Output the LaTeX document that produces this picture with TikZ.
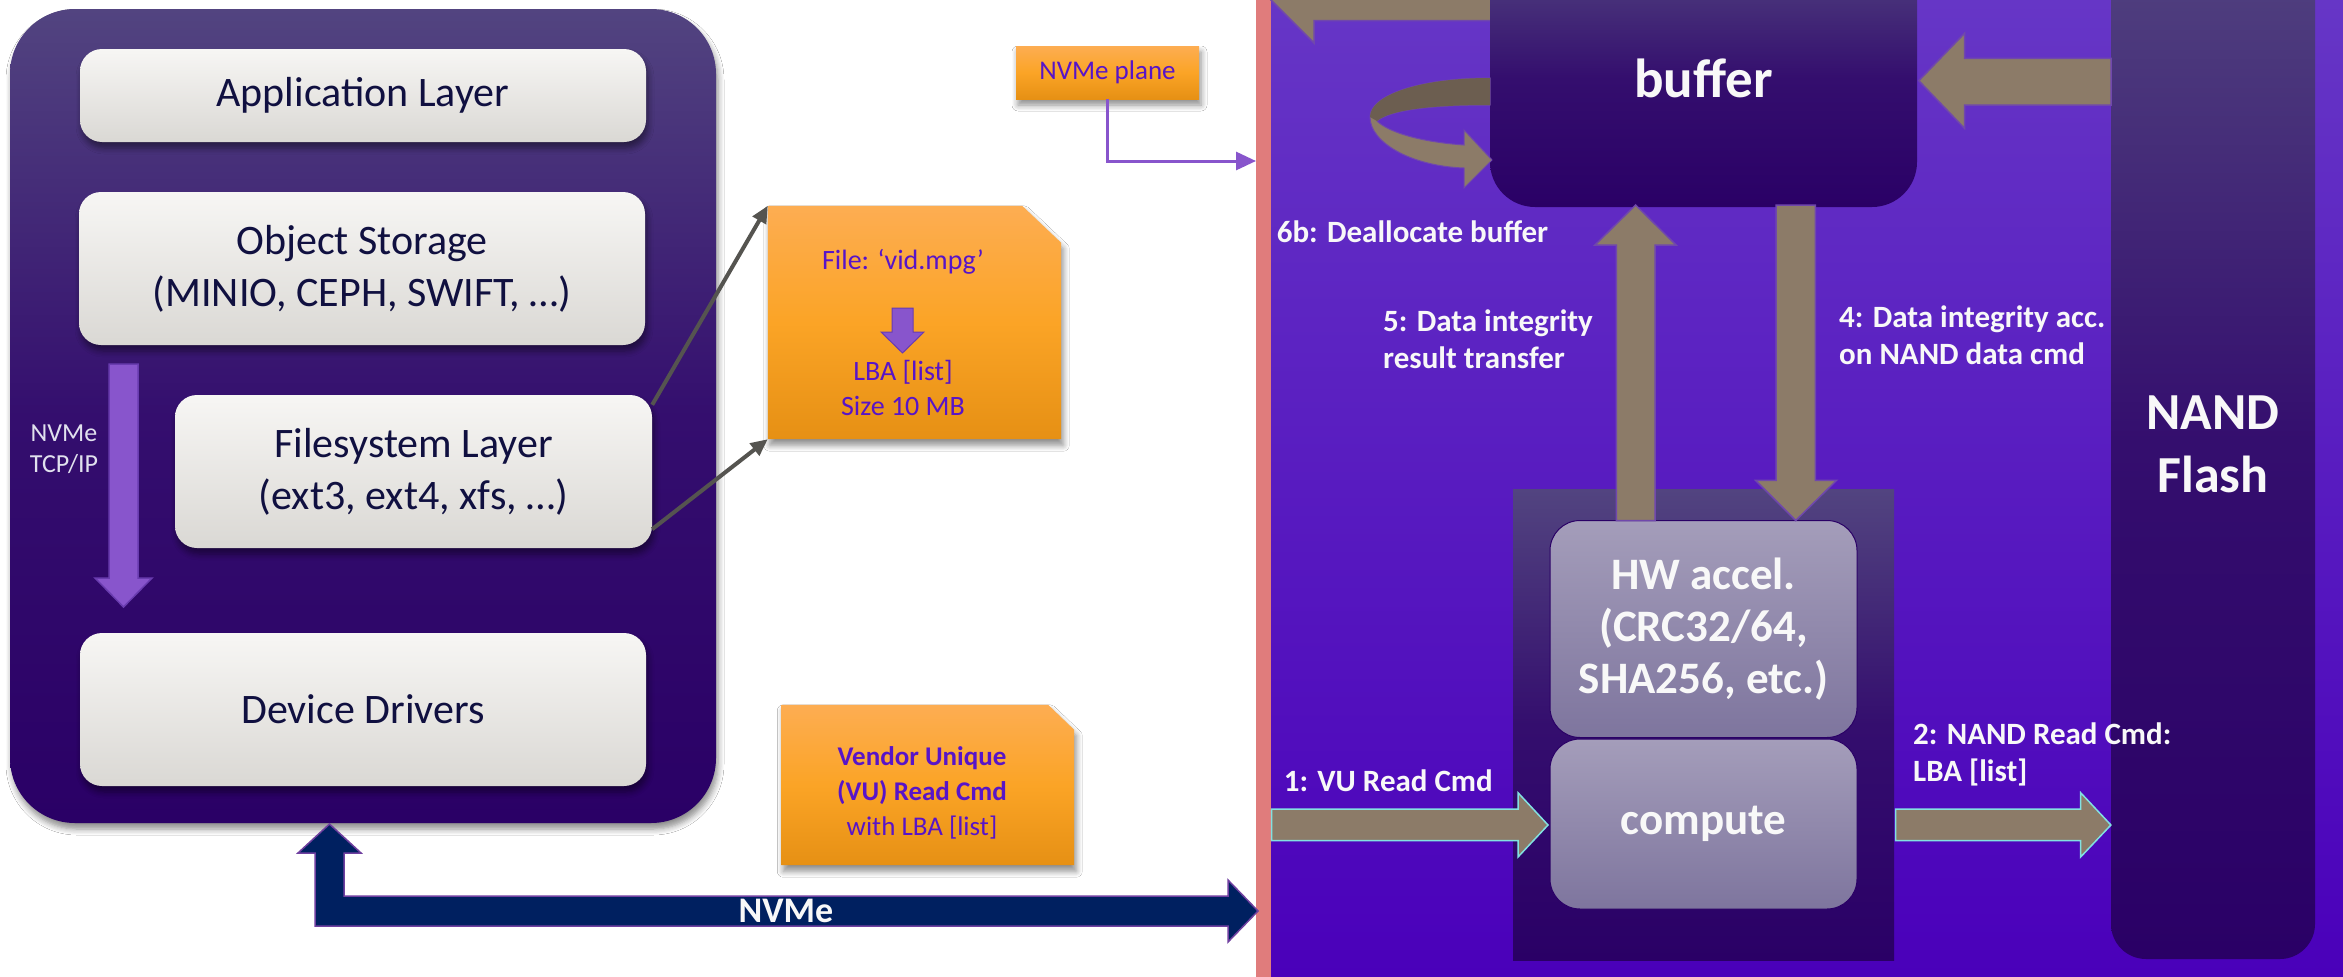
\documentclass[tikz,border=0pt]{standalone}
\usepackage{fontspec}
\setmainfont{Carlito}
\usetikzlibrary{arrows.meta,shadows.blur,calc}

\definecolor{panelTop}{RGB}{82,68,128}
\definecolor{panelMid}{RGB}{52,14,110}
\definecolor{panelBot}{RGB}{42,0,102}
\definecolor{layerTop}{RGB}{247,246,244}
\definecolor{layerBot}{RGB}{218,216,212}
\definecolor{layerText}{RGB}{16,16,64}
\definecolor{hostLabel}{RGB}{225,225,238}
\definecolor{lilac}{RGB}{136,85,204}
\definecolor{lilacEdge}{RGB}{105,60,175}
\definecolor{noteTop}{RGB}{253,173,82}
\definecolor{noteMid}{RGB}{251,164,38}
\definecolor{noteBot}{RGB}{230,144,20}
\definecolor{noteText}{RGB}{88,20,200}
\definecolor{navy}{RGB}{0,32,96}
\definecolor{navyEdge}{RGB}{112,64,160}
\definecolor{pinkStrip}{RGB}{224,124,124}
\definecolor{devTop}{RGB}{102,54,198}
\definecolor{devBot}{RGB}{74,0,186}
\definecolor{taupe}{RGB}{140,123,104}
\definecolor{taupeDark}{RGB}{108,94,80}
\definecolor{taupeEdge}{RGB}{112,72,172}
\definecolor{cyanEdge}{RGB}{130,225,225}
\definecolor{accTop}{RGB}{164,157,186}
\definecolor{accBot}{RGB}{126,117,158}
\definecolor{wire}{RGB}{85,84,80}
\definecolor{labelWhite}{RGB}{248,248,248}

\begin{document}
\begin{tikzpicture}[x=1pt,y=-1pt,
  softshadow/.style={blur shadow={shadow xshift=2pt, shadow yshift=-6pt,
      shadow opacity=45, shadow blur radius=6pt, shadow blur steps=6}},
  hostpanel/.style={rounded corners=65pt, top color=panelTop, bottom color=panelBot,
      middle color=panelMid, inner sep=0pt, softshadow},
  layer/.style={rounded corners=22pt, top color=layerTop, bottom color=layerBot,
      text=layerText, font=\fontsize{42}{52}\selectfont, align=center,
      inner sep=0pt, softshadow},
  noteframe/.style={rectangle, inner sep=0pt},
  notefill/.style={top color=noteTop, bottom color=noteBot, middle color=noteMid,
      softshadow},
  noterect/.style={rectangle, top color=noteTop, bottom color=noteBot,
      middle color=noteMid, inner sep=0pt, softshadow},
  notetext/.style={text=noteText, font=\fontsize{28}{35}\selectfont,
      align=center, inner sep=0pt},
  lilacarrow/.style={fill=lilac, draw=lilacEdge, line width=1.5pt},
  wireline/.style={draw=wire, line width=4pt,
      -{Triangle[length=17pt,width=15pt]}},
  planewire/.style={draw=lilac, line width=3pt,
      -{Triangle[length=20pt,width=18pt]}},
  darkbox/.style={top color=panelTop, bottom color=panelBot,
      middle color=panelMid, inner sep=0pt, text=labelWhite},
  accbox/.style={rounded corners=30pt, top color=accTop, bottom color=accBot,
      draw=panelBot, line width=1pt, text=labelWhite,
      font=\bfseries\fontsize{45}{52}\selectfont, align=center, inner sep=0pt},
  taupearrow/.style={fill=taupe, draw=taupeEdge, line width=1.5pt},
  cmdarrow/.style={fill=taupe, draw=cyanEdge, line width=1.5pt},
  steplabel/.style={text=labelWhite, font=\bfseries\fontsize{31}{37}\selectfont,
      align=left, anchor=west, inner sep=0pt}
]
\useasboundingbox (0,0) rectangle (2343,977);
\clip (0,0) rectangle (2343,977);
\fill[white] (0,0) rectangle (2343,977);

% ---------------- device side background ----------------
\fill[top color=devTop, bottom color=devBot] (1271,0) rectangle (2343,977);
\fill[pinkStrip] (1256,0) rectangle (1271,977);

% ---------------- host software stack ----------------
\node[hostpanel, minimum width=706pt, minimum height=814pt] (host) at (363,416) {};
\node[layer, minimum width=566pt, minimum height=93pt] (app) at (363,95.5) {Application Layer};
\node[layer, minimum width=566pt, minimum height=153pt] (obj) at (362,268.5)
  {Object Storage\\(MINIO, CEPH, SWIFT, …)};
\node[layer, minimum width=477pt, minimum height=153pt] (fs) at (413.5,471.5)
  {Filesystem Layer\\(ext3, ext4, xfs, …)};
\node[layer, minimum width=566pt, minimum height=153pt] (dd) at (363,709.5) {Device Drivers};

% NVMe over TCP/IP path down the stack
\path[lilacarrow] (109,364) -- (138,364) -- (138,578) -- (152,578) -- (123.5,607)
  -- (95,578) -- (109,578) -- cycle;
\node[text=hostLabel, font=\fontsize{26}{31}\selectfont, align=center, inner sep=0pt]
  (tcp) at (64,449) {NVMe\\TCP/IP};

% ---------------- file note (dog-eared card) ----------------
\node[noteframe, minimum width=293pt, minimum height=233pt] (file) at (914.5,322.5) {};
\path[notefill] (file.north west) -- ([xshift=-39pt]file.north east)
  -- ([yshift=-37pt]file.north east) -- (file.south east) -- (file.south west) -- cycle;
\node[notetext] (fname) at (903,262) {File: ‘vid.mpg’};
\node[notetext] (lba) at (903,388) {LBA [list]\\Size 10 MB};
\path[lilacarrow, line width=1pt] (892,308) -- (913,308) -- (913,332) -- (924,332)
  -- (902.5,353) -- (881,332) -- (892,332) -- cycle;

\draw[wireline] ([yshift=-10pt]fs.north east) -- (file.north west);
\draw[wireline] ([yshift=19pt]fs.south east) -- (file.south west);

% ---------------- NVMe plane tag ----------------
\node[noterect, minimum width=183pt, minimum height=53pt, text=noteText,
  font=\fontsize{27}{32}\selectfont] (plane) at (1107.5,72.5) {NVMe plane};
\coordinate (planeIn) at (1256,161);
\draw[planewire] (plane.south) |- (planeIn);

% ---------------- vendor unique command note ----------------
\node[noteframe, minimum width=292.5pt, minimum height=160pt] (vu) at (927.75,785) {};
\path[notefill] (vu.north west) -- ([xshift=-26pt]vu.north east)
  -- ([yshift=-25pt]vu.north east) -- (vu.south east) -- (vu.south west) -- cycle;
\node[notetext, font=\fontsize{27}{35}\selectfont] (vutext) at (922,793)
  {\textbf{Vendor Unique}\\\textbf{(VU) Read Cmd}\\with LBA [list]};

% ---------------- NVMe link ----------------
\path[fill=navy, draw=navyEdge, line width=1.5pt]
  (315,926) -- (315,853) -- (298,853) -- (329.5,824) -- (361,853) -- (344,853)
  -- (344,896) -- (1228,896) -- (1228,880) -- (1258,911) -- (1228,942)
  -- (1228,926) -- cycle;
\node[text=labelWhite, font=\bfseries\fontsize{36}{40}\selectfont, inner sep=0pt]
  (nvme) at (786,911) {NVMe};

% ---------------- device internals ----------------
% outgoing transfer from the buffer (towards the host)
\path[taupearrow] (1500,-26) -- (1314,-26) -- (1314,-49) -- (1268,-3) -- (1314,43)
  -- (1314,20.7) -- (1500,20.7) -- cycle;

\node[darkbox, rounded corners=45pt, minimum width=427pt, minimum height=257pt,
  font=\bfseries\fontsize{55}{60}\selectfont] (buffer) at (1703.5,78.5)
  {\raisebox{-4pt}{buffer}};

% deallocation loop on the buffer
\path[fill=taupe, draw=taupeEdge, line width=1pt]
  (1490,78) .. controls (1420,78) and (1370,95) .. (1370,117)
  .. controls (1370,142) and (1410,166) .. (1464,168)
  -- (1464,188) -- (1492,160) -- (1464,130) -- (1464,145)
  .. controls (1420,142) and (1388,132) .. (1377,121)
  .. controls (1390,110) and (1430,105) .. (1490,105) -- cycle;
\fill[taupeDark]
  (1490,78) .. controls (1420,78) and (1370,95) .. (1370,117)
  -- (1377,121) .. controls (1390,110) and (1430,105) .. (1490,105) -- cycle;

\node[darkbox, rounded corners=35pt, minimum width=204pt, minimum height=1029pt,
  font=\bfseries\fontsize{52}{63}\selectfont, align=center] (nand) at (2213,444.5)
  {NAND\\Flash};

% read data from NAND into the buffer
\path[taupearrow] (2111,58.3) -- (1964.5,58.3) -- (1964.5,33.3) -- (1918.8,80.7)
  -- (1964.5,128.3) -- (1964.5,105) -- (2111,105) -- cycle;

\node[darkbox, minimum width=381pt, minimum height=471.5pt] (engine) at (1703.5,724.75) {};
\node[accbox, minimum width=307pt, minimum height=217pt] (hw) at (1703.5,629)
  {HW accel.\\(CRC32/64,\\SHA256, etc.)};
\node[accbox, minimum width=307pt, minimum height=170pt] (compute) at (1703.5,824) {compute};

% result transfer up to the buffer
\path[taupearrow] (1616.3,520.5) -- (1616.3,245) -- (1595,245) -- (1635.6,205)
  -- (1676,245) -- (1655,245) -- (1655,520.5) -- cycle;
% data integrity command down to the accelerator
\path[taupearrow] (1776,205) -- (1815.4,205) -- (1815.4,480.4) -- (1836.5,480.4)
  -- (1795.7,520.5) -- (1755.6,480.4) -- (1776,480.4) -- cycle;

% VU read command into compute
\path[cmdarrow] (1271.7,809.2) -- (1518,809.2) -- (1518,792.7) -- (1548,825)
  -- (1518,857) -- (1518,840.7) -- (1271.7,840.7) -- cycle;
% NAND read command out of compute
\path[cmdarrow] (1895.6,809.2) -- (2080.6,809.2) -- (2080.6,792.7) -- (2110.9,825)
  -- (2080.6,857) -- (2080.6,840.7) -- (1895.6,840.7) -- cycle;

% step labels
\node[steplabel] (s6b) at (1276.6,231.7) {6b: Deallocate buffer};
\node[steplabel] (s5) at (1383,338.9) {5: Data integrity\\result transfer};
\node[steplabel] (s4) at (1839,335) {4: Data integrity acc.\\on NAND data cmd};
\node[steplabel] (s1) at (1283.6,780.7) {1: VU Read Cmd};
\node[steplabel] (s2) at (1913,754.6) {2: NAND Read Cmd:\\LBA [list]};
\end{tikzpicture}
\end{document}
